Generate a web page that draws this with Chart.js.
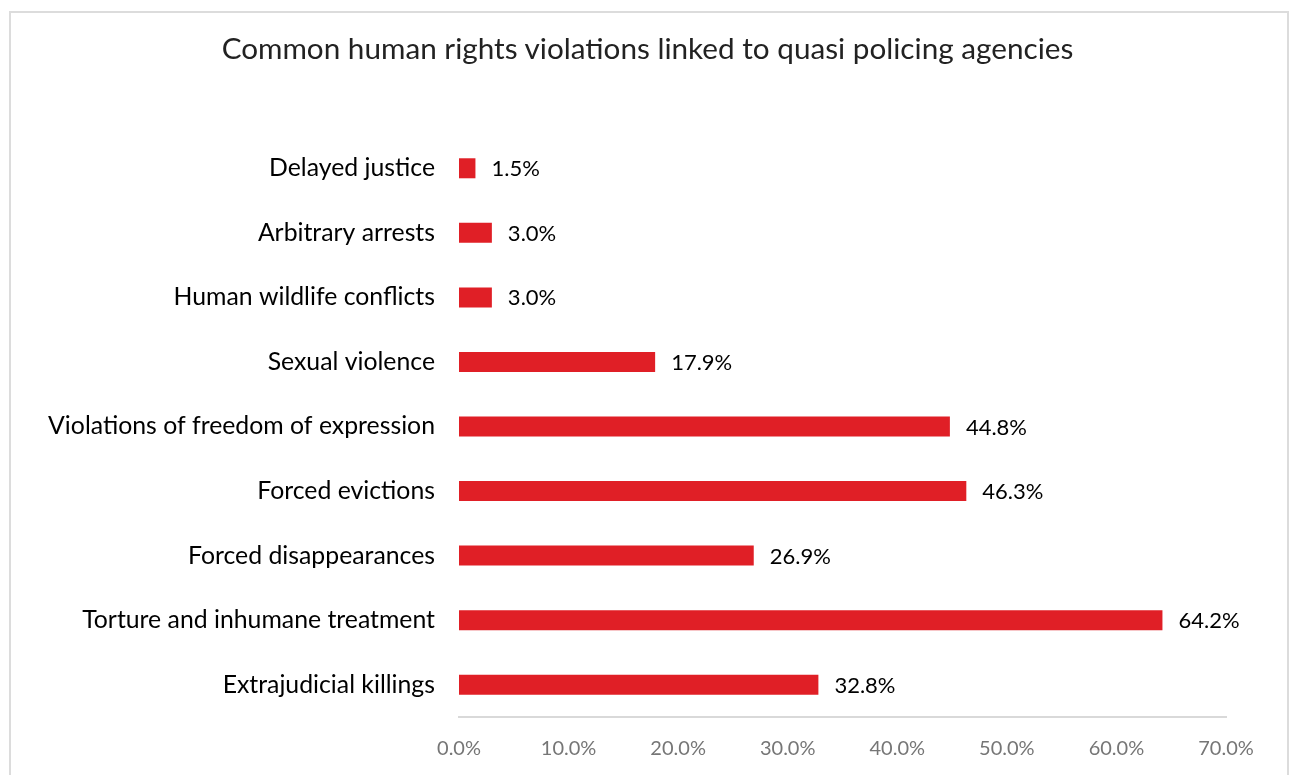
<!DOCTYPE html>
<html>
<head>
<meta charset="utf-8">
<script src="https://cdn.jsdelivr.net/npm/chart.js@4/dist/chart.umd.min.js"></script>
<style>
  html, body { margin: 0; padding: 0; background: #fff; }
  .wrap { position: relative; width: 1295px; height: 775px; overflow: hidden; }
  .card { position: absolute; left: 9px; top: 11px; width: 1280px; height: 800px; border: 2px solid #dcdcdc; box-sizing: border-box; }
  canvas { position: absolute; left: 0; top: 0; }
  h1 { position: absolute; left: 0; top: 30px; width: 1295px; margin: 0; text-align: center;
       font: normal 29.7px/36px Lato, "Open Sans", sans-serif; color: #222; z-index: 1; }
</style>
</head>
<body>
<div class="wrap">
  <div class="card"></div>
  <canvas id="violations" width="1295" height="775"></canvas>
  <h1 id="title"></h1>
</div>
<script>
const chartTitle = "Common human rights violations linked to quasi policing agencies";
const categories = [
  "Delayed justice",
  "Arbitrary arrests",
  "Human wildlife conflicts",
  "Sexual violence",
  "Violations of freedom of expression",
  "Forced evictions",
  "Forced disappearances",
  "Torture and inhumane treatment",
  "Extrajudicial killings"
];
const shares = [1.5, 3.0, 3.0, 17.9, 44.8, 46.3, 26.9, 64.2, 32.8];
const xTicks = [0, 10, 20, 30, 40, 50, 60, 70];

const FONT = "Lato, 'Open Sans', sans-serif";
document.getElementById("title").textContent = chartTitle;

// value labels to the right of each bar
const barLabels = {
  id: "barLabels",
  afterDatasetsDraw(chart) {
    const ctx = chart.ctx;
    const meta = chart.getDatasetMeta(0);
    ctx.save();
    ctx.font = `22px ${FONT}`;
    ctx.fillStyle = "#000";
    ctx.textAlign = "left";
    ctx.textBaseline = "middle";
    meta.data.forEach((bar, i) => {
      ctx.fillText(shares[i].toFixed(1) + "%", bar.x + 16, bar.y + 1);
    });
    ctx.restore();
  }
};

new Chart(document.getElementById("violations"), {
  type: "bar",
  data: {
    labels: categories,
    datasets: [{
      data: shares,
      backgroundColor: "#e01f26",
      borderWidth: 0,
      barPercentage: 0.31,
      categoryPercentage: 1
    }]
  },
  options: {
    indexAxis: "y",
    responsive: false,
    animation: false,
    layout: { padding: { left: 0, right: 69, top: 136, bottom: 0 } },
    plugins: {
      legend: { display: false },
      tooltip: { enabled: false },
      title: { display: false }
    },
    scales: {
      x: {
        min: 0,
        max: 70,
        afterBuildTicks: s => { s.ticks = xTicks.map(v => ({ value: v })); },
        grid: { display: false, drawTicks: false },
        border: { display: true, color: "#d9d9d9", width: 2 },
        ticks: {
          color: "#767676",
          padding: 20,
          font: { family: FONT, size: 20 },
          callback: v => Number(v).toFixed(1) + "%"
        },
        afterFit: s => { s.height = 58; }
      },
      y: {
        grid: { display: false, drawTicks: false },
        border: { display: false },
        ticks: {
          color: "#000",
          padding: 24,
          font: { family: FONT, size: 24.8 }
        },
        afterFit: s => { s.width = 459; }
      }
    }
  },
  plugins: [barLabels]
});
</script>
</body>
</html>
